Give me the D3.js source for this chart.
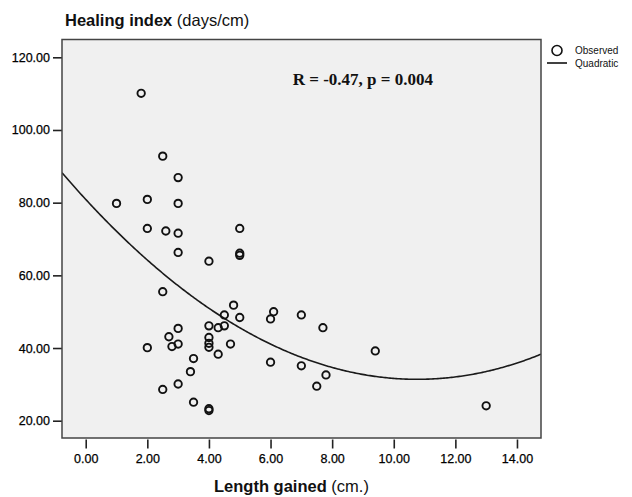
<!DOCTYPE html>
<html>
<head>
<meta charset="utf-8">
<script src="https://cdn.jsdelivr.net/npm/d3@7"></script>
<style>
  body { margin: 0; background: #fff; }
  text { font-family: "Liberation Sans", Arial, sans-serif; }
</style>
</head>
<body>
<div id="chart"></div>
<script>
// Observed points
const lengthGained = [1.8, 2.5, 3.0, 1.0, 2.0, 3.0, 2.0, 2.6, 3.0, 3.0, 4.0, 5.0, 5.0, 5.0,
  2.5, 4.8, 4.5, 5.0, 3.0, 4.0, 4.3, 4.5, 2.7, 4.0, 3.0, 2.8, 4.0, 4.0, 4.7, 2.0, 4.3,
  3.5, 3.4, 3.0, 2.5, 3.5, 4.0, 4.0, 6.1, 6.0, 7.0, 7.7, 6.0, 7.0, 7.8, 7.5, 9.4, 13.0];
const healingIndex = [110.1, 92.8, 86.9, 79.8, 80.9, 79.8, 72.9, 72.2, 71.6, 66.3, 63.9, 72.9, 65.5, 66.1,
  55.5, 51.8, 49.1, 48.4, 45.4, 46.1, 45.6, 46.1, 43.1, 42.9, 41.1, 40.4, 41.3, 40.2, 41.1, 40.1, 38.3,
  37.1, 33.5, 30.1, 28.6, 25.1, 22.8, 23.3, 50.0, 48.0, 49.1, 45.6, 36.1, 35.1, 32.6, 29.5, 39.2, 24.1];

// Quadratic fit coefficients (y = c0 + c1*x + c2*x^2)
const quadCoef = [80.9, -9.2, 0.4274];

const xTicks = [0, 2, 4, 6, 8, 10, 12, 14];
const yTicks = [20, 40, 60, 80, 100, 120];
const statText = 'R = -0.47, p = 0.004';

const W = 632, H = 497;
const plot = { left: 62, right: 541, top: 39.5, bottom: 438 };

const svg = d3.select('#chart')
  .append('svg')
    .attr('width', W)
    .attr('height', H);

const x = d3.scaleLinear()
  .domain([-0.77, 14.78])
  .range([plot.left, plot.right]);

const y = d3.scaleLinear()
  .domain([15.24, 124.9])
  .range([plot.bottom, plot.top]);

// Plot background
svg.append('rect')
  .attr('x', plot.left)
  .attr('y', plot.top)
  .attr('width', plot.right - plot.left)
  .attr('height', plot.bottom - plot.top)
  .attr('fill', '#f0f0f0');

// Axes
const fmt = d3.format('.2f');
const yAxis = svg.append('g')
  .attr('transform', `translate(${plot.left},0)`)
  .call(d3.axisLeft(y).tickValues(yTicks).tickFormat(fmt).tickSize(9).tickPadding(3));

const xAxis = svg.append('g')
  .attr('transform', `translate(0,${plot.bottom + 1.5})`)
  .call(d3.axisBottom(x).tickValues(xTicks).tickFormat(fmt).tickSize(9).tickPadding(6));

[xAxis, yAxis].forEach(g => {
  g.select('.domain').remove();
  g.selectAll('line').attr('stroke', '#222').attr('stroke-width', 1.6);
  g.selectAll('text')
    .attr('fill', '#000')
    .attr('stroke', '#000')
    .attr('stroke-width', 0.25)
    .style('font-size', '12.5px')
    .style('font-family', '"Liberation Sans", Arial, sans-serif');
});

// Clip for the fitted curve
svg.append('clipPath')
  .attr('id', 'clip')
  .append('rect')
    .attr('x', plot.left)
    .attr('y', plot.top)
    .attr('width', plot.right - plot.left)
    .attr('height', plot.bottom - plot.top);

// Quadratic curve
const [xMin, xMax] = x.domain();
const curveX = d3.range(xMin, xMax + 0.05, 0.05);
const quad = v => quadCoef[0] + quadCoef[1] * v + quadCoef[2] * v * v;
svg.append('path')
  .datum(curveX)
  .attr('clip-path', 'url(#clip)')
  .attr('fill', 'none')
  .attr('stroke', '#1a1a1a')
  .attr('stroke-width', 1.6)
  .attr('d', d3.line().x(d => x(d)).y(d => y(quad(d))));

// Observed points
svg.selectAll('.dot')
  .data(lengthGained.map((v, i) => ({ lx: v, hi: healingIndex[i] })))
  .enter()
  .append('circle')
    .attr('class', 'dot')
    .attr('cx', d => x(d.lx))
    .attr('cy', d => y(d.hi))
    .attr('r', 3.7)
    .attr('fill', 'none')
    .attr('stroke', '#111')
    .attr('stroke-width', 1.9);

// Frame
svg.append('rect')
  .attr('x', plot.left)
  .attr('y', plot.top)
  .attr('width', plot.right - plot.left)
  .attr('height', plot.bottom - plot.top)
  .attr('fill', 'none')
  .attr('stroke', '#444')
  .attr('stroke-width', 1.5);

// Statistic annotation
svg.append('text')
  .attr('x', 433)
  .attr('y', 85)
  .attr('text-anchor', 'end')
  .style('font-family', '"Liberation Serif", "Times New Roman", serif')
  .style('font-size', '17px')
  .style('font-weight', 'bold')
  .attr('fill', '#111')
  .text(statText);

// Titles
const title = svg.append('text')
  .attr('x', 65)
  .attr('y', 26)
  .style('font-size', '16.5px')
  .attr('fill', '#111');
title.append('tspan').style('font-weight', 'bold').text('Healing index');
title.append('tspan').text(' (days/cm)');

const xTitle = svg.append('text')
  .attr('x', 214)
  .attr('y', 492)
  .style('font-size', '16.5px')
  .attr('fill', '#111');
xTitle.append('tspan').style('font-weight', 'bold').text('Length gained');
xTitle.append('tspan').text(' (cm.)');

// Legend
const legend = svg.append('g');
legend.append('circle')
  .attr('cx', 557)
  .attr('cy', 50.5)
  .attr('r', 5)
  .attr('fill', 'none')
  .attr('stroke', '#111')
  .attr('stroke-width', 1.6);
legend.append('text')
  .attr('x', 575)
  .attr('y', 54)
  .style('font-size', '10px')
  .attr('fill', '#111')
  .text('Observed');
legend.append('line')
  .attr('x1', 547)
  .attr('x2', 567)
  .attr('y1', 63)
  .attr('y2', 63)
  .attr('stroke', '#111')
  .attr('stroke-width', 1.6);
legend.append('text')
  .attr('x', 575)
  .attr('y', 66.5)
  .style('font-size', '10px')
  .attr('fill', '#111')
  .text('Quadratic');
</script>
</body>
</html>
